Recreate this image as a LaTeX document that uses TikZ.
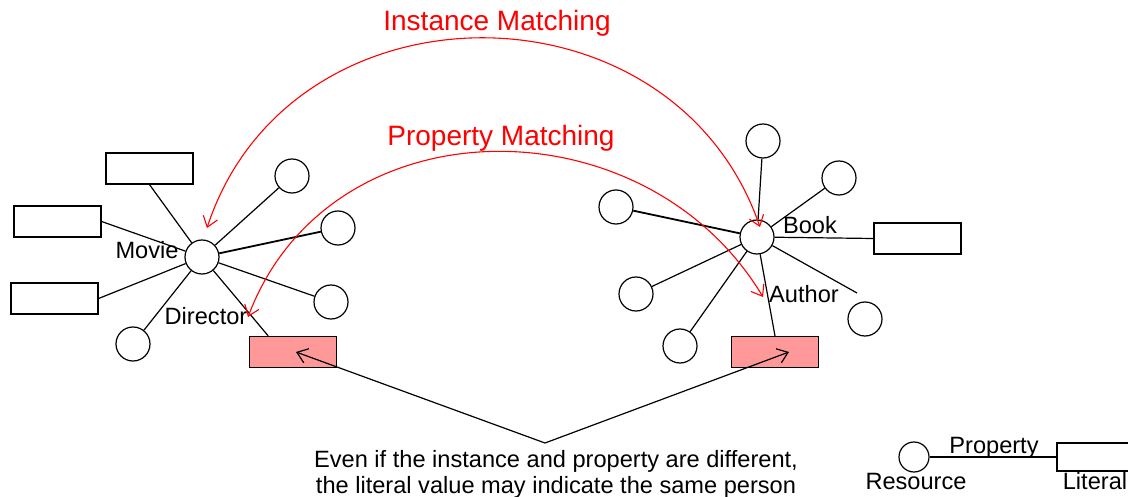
\documentclass[tikz,border=0pt]{standalone}
\usepackage{fontspec}
\setmainfont{Liberation Sans}
\usetikzlibrary{arrows.meta}
\definecolor{pinkfill}{HTML}{FF9999}
\begin{document}
\begin{tikzpicture}[x=1pt,y=-1pt,
  res/.style={draw,circle,minimum size=34pt,inner sep=0pt,line width=1.2pt},
  lit/.style={draw,rectangle,minimum width=87pt,minimum height=31pt,inner sep=0pt,line width=1.2pt},
  hit/.style={lit,fill=pinkfill},
  spoke/.style={line width=1.2pt},
  heavy/.style={line width=1.8pt},
  lbl/.style={font=\fontsize{23.6}{28}\selectfont,inner sep=0pt,anchor=base},
  redlbl/.style={font=\fontsize{28}{33}\selectfont,inner sep=0pt,anchor=base,text=red},
  match/.style={draw=red,line width=1.1pt,{Straight Barb[length=10pt,width=15pt]}-{Straight Barb[length=10pt,width=15pt]}},
  note/.style={line width=1.2pt,-{Straight Barb[length=10pt,width=15pt]}}
]
\useasboundingbox (0,0) rectangle (1128,497);

% ---- Movie cluster ----
\node[res] (m) at (202,257) {};
\node[lit] (mt) at (149.5,168.5) {};
\node[lit] (ml1) at (57.5,221.5) {};
\node[lit] (ml2) at (54.5,298.5) {};
\node[res] (mbl) at (133,344) {};
\node[res] (mtr) at (292,176) {};
\node[res] (mr1) at (338,228) {};
\node[res] (mr2) at (331,302) {};
\node[hit] (p1) at (293,352) {};

\draw[spoke] (m) -- (mt.south);
\draw[spoke] (m) -- (ml1.east);
\draw[spoke] (m) -- (ml2.east);
\draw[spoke] (m) -- (mbl);
\draw[spoke] (m) -- (mtr);
\draw[heavy] (m) -- (mr1);
\draw[spoke] (m) -- (mr2);
\draw[spoke] (m) -- (p1.147);

\node[lbl] (movie) at (147,259) {Movie};
\node[lbl] (director) at (206,324) {Director};

% ---- Book cluster ----
\node[res] (b) at (757,237) {};
\node[res] (bt) at (763,141) {};
\node[res] (btr) at (839,178) {};
\node[res] (bl) at (616,207) {};
\node[res] (blb) at (636,294) {};
\node[res] (bb) at (680,346) {};
\node[res] (bstray) at (865,319) {};
\node[lit] (br) at (917.5,238.5) {};
\node[hit] (p2) at (775,352) {};
\coordinate (bend) at (857,293);

\draw[spoke] (b) -- (bt);
\draw[spoke] (b) -- (btr);
\draw[heavy] (b) -- (bl);
\draw[spoke] (b) -- (blb);
\draw[spoke] (b) -- (bb);
\draw[spoke] (b) -- (br.west);
\draw[spoke] (b) -- (bend);
\draw[spoke] (b) -- (p2.north);

\node[lbl] (book) at (810,234) {Book};
\node[lbl] (author) at (804,303) {Author};

% ---- Matching arcs ----
\coordinate (imL) at (207,228);
\coordinate (imR) at (760,227);
\coordinate (pmL) at (248,317);
\coordinate (pmR) at (763,297);
\draw[match] (imL) .. controls (290,-25) and (673,-25) .. (imR);
\draw[match] (pmL) .. controls (330,100) and (645,100) .. (pmR);
\node[redlbl] (imlbl) at (497,31) {Instance Matching};
\node[redlbl] (pmlbl) at (501,146) {Property Matching};

% ---- Note ----
\coordinate (src) at (545,443);
\draw[note] (src) -- ([xshift=3pt]p1.center);
\draw[note] (src) -- ([xshift=14pt]p2.center);
\node[lbl] (note1) at (556,467) {Even if the instance and property are different,};
\node[lbl] (note2) at (556,493) {the literal value may indicate the same person};

% ---- Legend ----
\node[draw,circle,minimum size=30pt,inner sep=0pt,line width=1.2pt] (lr) at (914,457) {};
\node[lit,minimum height=28pt] (ll) at (1100.5,457) {};
\draw[spoke] (lr) -- (ll.west);
\node[lbl] (lprop) at (994,453) {Property};
\node[lbl] (lres) at (916,489) {Resource};
\node[lbl] (llit) at (1095,489) {Literal};
\end{tikzpicture}
\end{document}
